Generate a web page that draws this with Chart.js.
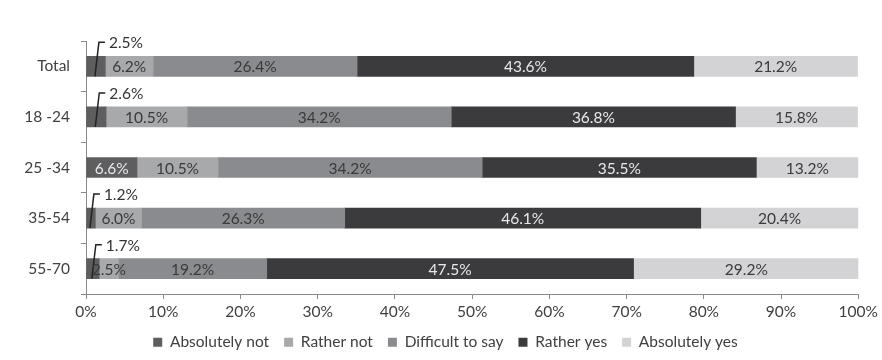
<!DOCTYPE html>
<html>
<head>
<meta charset="utf-8">
<script src="https://cdn.jsdelivr.net/npm/chart.js@4.4.0/dist/chart.umd.min.js"></script>
<style>
  html, body { margin: 0; padding: 0; background: #fff; }
</style>
</head>
<body>
<canvas id="chart" width="882" height="360"></canvas>
<script>
// -------- Datos --------
const groups = ["Total", "18 -24", "25 -34", "35-54", "55-70"];
const absolutelyNot = [2.5, 2.6, 6.6, 1.2, 1.7];
const ratherNot = [6.2, 10.5, 10.5, 6.0, 2.5];
const difficultToSay = [26.4, 34.2, 34.2, 26.3, 19.2];
const ratherYes = [43.6, 36.8, 35.5, 46.1, 47.5];
const absolutelyYes = [21.2, 15.8, 13.2, 20.4, 29.2];
const xTickLabels = ["0%", "10%", "20%", "30%", "40%", "50%", "60%", "70%", "80%", "90%", "100%"];

// -------- Estilo --------
const FONT_SIZE = 15.5;
Chart.defaults.font.family = "Lato";
Chart.defaults.font.size = FONT_SIZE;
Chart.defaults.color = "#404040";

const AXIS = "#8a8a8a";

// etiquetas dentro de las barras (y llamadas para valores chicos)
const barLabels = {
  id: "barLabels",
  afterLayout(chart) {
    // leyenda centrada sobre todo el lienzo, no sobre el area con padding
    const shift = 15;
    chart.legend.left += shift;
    chart.legend.right += shift;
  },
  afterDatasetsDraw(chart) {
    const ctx = chart.ctx;
    ctx.save();
    ctx.font = FONT_SIZE + "px Lato";
    ctx.textBaseline = "middle";
    chart.data.datasets.forEach((ds, i) => {
      const meta = chart.getDatasetMeta(i);
      meta.data.forEach((bar, j) => {
        const v = ds.data[j];
        const txt = v.toFixed(1) + "%";
        const p = bar.getProps(["x", "y", "base", "height"], true);
        const cx = (p.x + p.base) / 2;
        if (i === 0 && v < 3) {
          const top = p.y - p.height / 2;
          const bottom = p.y + p.height / 2;
          const yTop = top - 14;
          ctx.strokeStyle = "#222";
          ctx.lineWidth = 1.5;
          ctx.beginPath();
          ctx.moveTo(cx - 1, bottom);
          ctx.lineTo(cx + 3, yTop);
          ctx.lineTo(cx + 9, yTop);
          ctx.stroke();
          ctx.fillStyle = "#333";
          ctx.textAlign = "left";
          ctx.fillText(txt, cx + 13, yTop + 1);
        } else {
          ctx.fillStyle = ds.labelColor;
          ctx.textAlign = "center";
          ctx.fillText(txt, cx, p.y + 1);
        }
      });
    });
    ctx.restore();
  }
};

new Chart(document.getElementById("chart"), {
  type: "bar",
  data: {
    labels: groups,
    datasets: [
      { label: "Absolutely not", data: absolutelyNot, backgroundColor: "#5e5e60", labelColor: "#e8e8e8" },
      { label: "Rather not", data: ratherNot, backgroundColor: "#a8a9ab", labelColor: "#3a3a3a" },
      { label: "Difficult to say", data: difficultToSay, backgroundColor: "#8a8b8e", labelColor: "#3a3a3a" },
      { label: "Rather yes", data: ratherYes, backgroundColor: "#3b3a3d", labelColor: "#e8e8e8" },
      { label: "Absolutely yes", data: absolutelyYes, backgroundColor: "#d3d3d6", labelColor: "#3a3a3a" }
    ]
  },
  options: {
    indexAxis: "y",
    responsive: false,
    animation: false,
    devicePixelRatio: 1,
    barThickness: 20,
    layout: { padding: { top: 41, right: 21, left: 0, bottom: 0 } },
    scales: {
      x: {
        stacked: true,
        min: 0,
        max: 100,
        ticks: { stepSize: 10, padding: 4, callback: (v, i) => xTickLabels[i] },
        grid: { drawOnChartArea: false, tickLength: 5, color: AXIS },
        border: { color: AXIS },
        afterFit: s => { s.height = 25.5; }
      },
      y: {
        stacked: true,
        ticks: { padding: 11 },
        grid: { drawOnChartArea: false, offset: true, tickLength: 5, color: AXIS },
        border: { color: AXIS },
        afterFit: s => { s.width = 86; }
      }
    },
    plugins: {
      tooltip: { enabled: false },
      legend: {
        position: "bottom",
        labels: { boxWidth: 9, boxHeight: 9, padding: 15, color: "#404040" }
      }
    }
  },
  plugins: [barLabels]
});
</script>
</body>
</html>
